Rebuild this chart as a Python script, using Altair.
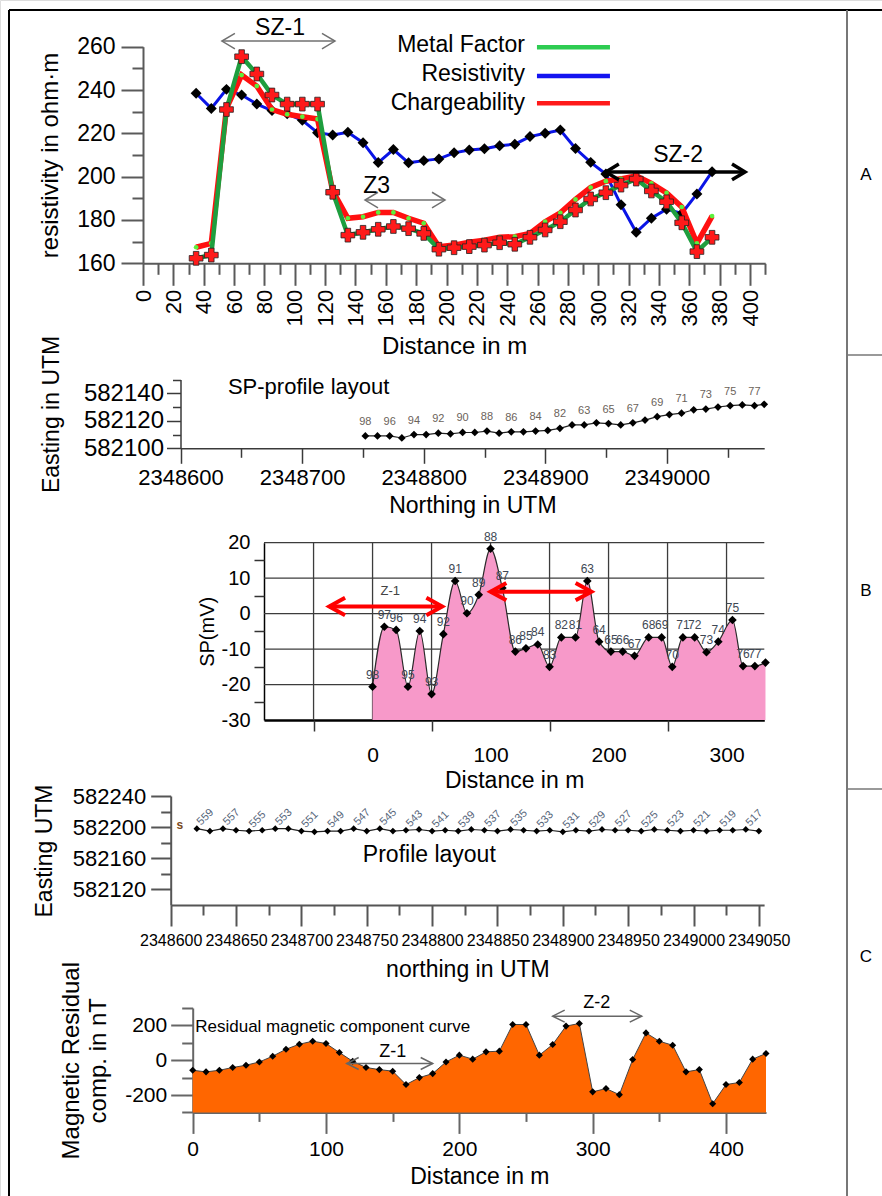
import altair as alt
import pandas as pd

FONT = "Liberation Sans"
W, H = 882, 1196

# ---------------- Panel A : resistivity / metal factor / chargeability ----------------
dist_a = [35, 45, 55, 65, 75, 85, 95, 105, 115, 125, 135, 145, 155, 165, 175,
          185, 195, 205, 215, 225, 235, 245, 255, 265, 275, 285, 295, 305, 315,
          325, 335, 345, 355, 365, 375]
resistivity = [238.5, 231.5, 240.3, 237.7, 233.5, 230.5, 229, 226, 220.3, 219.2, 220.5,
               215.7, 206.5, 212.5, 206.4, 207.4, 208.2, 211, 212.3, 212.9, 214.3,
               215, 218.5, 220, 221.5, 213, 206.6, 201.2, 187, 174.3, 180.8, 185, 183,
               192, 202.3]
metal_factor = [162.3, 163.8, 231, 255.4, 247.4, 237.7, 233.5, 233.5, 233.5, 192.8, 173,
                174.3, 175.7, 177, 176, 173.8, 166.5, 167.2, 167.7, 168.4, 169.5, 168.8,
                172, 175.4, 179.2, 184.6, 189.7, 192.6, 196.1, 198.9, 193.4, 188.4, 178.7,
                165.4, 172]
chargeability = [167.4, 169.2, 231.5, 246.9, 241.8, 231, 228.8, 227.7, 226.6, 193.5, 180.8,
                 181.5, 183.5, 183.5, 180.8, 178.5, 167.7, 168.4, 169.7, 170.7, 172, 172.3,
                 173.8, 179.2, 183.3, 189.5, 195, 197.9, 199, 200.4, 196.9, 192.5, 186,
                 169.2, 181.8]
a_x_major = [0, 20, 40, 60, 80, 100, 120, 140, 160, 180, 200, 220, 240, 260, 280, 300,
             320, 340, 360, 380, 400]
a_x_minor = [10, 30, 50, 70, 90, 110, 130, 150, 170, 190, 210, 230, 250, 270, 290, 310,
             330, 350, 370, 390, 410]
a_y_major = [160, 180, 200, 220, 240, 260]
a_y_minor = [170, 190, 210, 230, 250]
legend_names = ["Metal Factor", "Resistivity", "Chargeability"]
legend_colors = ["#2ecc52", "#1414f0", "#ff1a1a"]

# ---------------- Panel B1 : SP profile layout ----------------
spl_northing = [2348752, 2348762, 2348772, 2348782, 2348792, 2348802, 2348812, 2348822,
                2348832, 2348842, 2348852, 2348862, 2348872, 2348882, 2348892, 2348902,
                2348912, 2348922, 2348932, 2348942, 2348952, 2348962, 2348972, 2348982,
                2348992, 2349002, 2349012, 2349022, 2349032, 2349042, 2349052, 2349062,
                2349072, 2349080]
spl_easting = [582109, 582109, 582109, 582107.5, 582110, 582110, 582111, 582110.5,
               582111.5, 582111.5, 582112.5, 582111, 582112, 582112, 582112.5, 582113,
               582114.5, 582117, 582117, 582118.5, 582118, 582117, 582118.5, 582120.5,
               582123, 582124.5, 582125.5, 582128, 582128.5, 582130, 582131, 582131.5,
               582131, 582132]
spl_labels = ["98", "", "96", "", "94", "", "92", "", "90", "", "88", "", "86", "", "84", "",
              "82", "", "63", "", "65", "", "67", "", "69", "", "71", "", "73", "", "75", "",
              "77", ""]
l_x_major = [2348600, 2348700, 2348800, 2348900, 2349000]
l_x_minor = [2348650, 2348750, 2348850, 2348950, 2349050]
l_y_major = [582100, 582120, 582140]
l_y_minor = [582110, 582130, 582150]

# ---------------- Panel B2 : SP curve ----------------
sp_dist = [0, 10, 20, 30, 40, 50, 60, 70, 80, 90, 100, 110, 121, 130, 140, 150, 160, 172,
           182, 192, 202, 212, 222, 234, 245, 254, 263, 273, 283, 293, 305, 314, 324, 333]
sp_mv = [-20.6, -3.7, -4.6, -20.6, -4.9, -22.7, -5.8, 9.2, 0.1, 5.3, 18.3, 7.2, -10.7, -9.8,
         -8.7, -15, -6.7, -6.7, 9.2, -7.9, -10.7, -10.7, -11.9, -6.7, -6.7, -15, -6.7, -6.7,
         -10.9, -7.9, -1.8, -14.8, -14.8, -13.8]
sp_labels = ["98", "97", "96", "95", "94", "93", "92", "91", "90", "89", "88", "87", "86",
             "85", "84", "83", "82", "81", "63", "64", "65", "66", "67", "68", "69", "70",
             "71", "72", "73", "74", "75", "76", "77", ""]
sp_grid_y = [20, 10, 0, -10, -20]
sp_grid_x = [-50, 0, 50, 100, 150, 200, 250, 300]
s_x_major = [0, 100, 200, 300]
s_x_minor = [-50, 50, 150, 250]
s_y_major = [-30, -20, -10, 0, 10, 20]
s_y_minor = [-25, -15, -5, 5, 15]

# ---------------- Panel C1 : magnetic profile layout ----------------
prof_northing = [2348620, 2348630, 2348640, 2348650, 2348660, 2348670, 2348680, 2348690,
                 2348700, 2348710, 2348720, 2348730, 2348740, 2348750, 2348760, 2348770,
                 2348780, 2348790, 2348800, 2348810, 2348820, 2348830, 2348840, 2348850,
                 2348860, 2348870, 2348880, 2348890, 2348900, 2348910, 2348920, 2348930,
                 2348940, 2348950, 2348960, 2348970, 2348980, 2348990, 2349000, 2349010,
                 2349020, 2349030, 2349040, 2349050]
prof_easting = [582198, 582195, 582198, 582196, 582195, 582196, 582198, 582198, 582195, 582194,
                582195, 582195, 582198, 582195, 582198, 582195, 582196, 582197, 582195, 582196,
                582195, 582197, 582196, 582195, 582197, 582196, 582195, 582196, 582194, 582196,
                582195, 582197, 582196, 582196, 582195, 582197, 582196, 582195, 582196, 582195,
                582196, 582196, 582197, 582195]
prof_labels = ["559", "", "557", "", "555", "", "553", "", "551", "", "549", "", "547", "",
               "545", "", "543", "", "541", "", "539", "", "537", "", "535", "", "533", "",
               "531", "", "529", "", "527", "", "525", "", "523", "", "521", "", "519", "",
               "517", ""]
p_x_major = [2348600, 2348650, 2348700, 2348750, 2348800, 2348850, 2348900, 2348950,
             2349000, 2349050]
p_x_minor = [2348625, 2348675, 2348725, 2348775, 2348825, 2348875, 2348925, 2348975, 2349025]
p_y_major = [582120, 582160, 582200, 582240]
p_y_minor = [582140, 582180, 582220]

# ---------------- Panel C2 : residual magnetic ----------------
mag_dist = [0, 10, 20, 30, 40, 50, 60, 70, 80, 90, 100, 110, 120, 130, 140, 150, 160, 170,
            180, 190, 200, 210, 220, 230, 240, 250, 260, 270, 280, 290, 300, 310, 320, 330,
            340, 350, 360, 370, 380, 390, 400, 410, 420, 430]
mag_nt = [-58, -67, -58, -42, -29, -10, 23, 63, 92, 109, 96, 44, -6, -42, -54, -63, -140,
          -100, -77, -10, 29, 6, 48, 52, 205, 205, 29, 90, 196, 211, -182, -163, -198, 4,
          157, 109, 86, -67, -54, -250, -140, -128, 6, 39]
m_x_major = [0, 100, 200, 300, 400]
m_x_minor = [50, 150, 250, 350]
m_y_major = [-200, 0, 200]
m_y_minor = [-300, -100, 100, 300]


# ---------------- helpers ----------------
def qx(field, scale, axis=None):
    return alt.X(field, type="quantitative", scale=scale, axis=axis)


def qy(field, scale, axis=None):
    return alt.Y(field, type="quantitative", scale=scale, axis=axis)


def make_axis(orient, values, pos, tick, color, labels=True, domain=True, lab_size=20,
              lab_pad=4, title=None, title_size=22, title_pad=8, label_angle=None,
              dwidth=2, line_height=None):
    off = -pos if orient == "left" else pos - H
    kw = dict(orient=orient, values=values, offset=off, tickSize=tick, tickColor=color,
              tickWidth=dwidth, ticks=tick > 0, domain=domain, domainColor=color,
              domainWidth=dwidth, grid=False, labels=labels, title=title)
    if labels:
        kw.update(labelFont=FONT, labelFontSize=lab_size, labelColor="black",
                  labelPadding=lab_pad, labelExpr="datum.value + ''", labelOverlap=False,
                  labelFlush=False)
        if label_angle is not None:
            kw["labelAngle"] = label_angle
    if title is not None:
        kw.update(titleFont=FONT, titleFontSize=title_size, titleFontWeight="normal",
                  titleColor="black", titlePadding=title_pad)
        if line_height is not None:
            kw["titleLineHeight"] = line_height
    return alt.Axis(**kw)


def arrows(x1, x2, y, xs, ys, color, width, size, ratio):
    df = pd.DataFrame({"x1": x1, "x2": x2, "y": y})
    b = alt.Chart(df)
    lp = f"M 1 {-ratio} L 0 0 L 1 {ratio}"
    rp = f"M -1 {-ratio} L 0 0 L -1 {ratio}"
    return [
        b.mark_rule(color=color, strokeWidth=width).encode(
            x=qx("x1", xs), x2=alt.X2("x2"), y=qy("y", ys)),
        b.mark_point(shape=lp, filled=False, color=color, strokeWidth=width, size=size,
                     opacity=1).encode(x=qx("x1", xs), y=qy("y", ys)),
        b.mark_point(shape=rp, filled=False, color=color, strokeWidth=width, size=size,
                     opacity=1).encode(x=qx("x2", xs), y=qy("y", ys)),
    ]


def texts(tx, ty, tt, xs, ys, size, align="center", color="black", **kw):
    df = pd.DataFrame({"x": tx, "y": ty, "t": tt})
    return alt.Chart(df).mark_text(font=FONT, fontSize=size, align=align, baseline="middle",
                                   color=color, **kw).encode(
        x=qx("x", xs), y=qy("y", ys), text=alt.Text("t:N"))


def panel(layers):
    return alt.layer(*layers).resolve_axis(x="independent", y="independent")


# ---------------- Panel A ----------------
XA = alt.Scale(domain=[0, 410], range=[143, 765.2], nice=False, zero=False)
YA = alt.Scale(domain=[160, 260], range=[263.3, 46.7], nice=False, zero=False)
A_C = "#5a5a5a"
dfA = pd.DataFrame({"d": dist_a, "res": resistivity, "mf": metal_factor, "ch": chargeability})
bA = alt.Chart(dfA)
axA_x = make_axis("bottom", a_x_major, 263.3, 22, A_C, lab_size=22, lab_pad=4, label_angle=270,
                  title="Distance in m", title_size=24, title_pad=8)
axA_y = make_axis("left", a_y_major, 143, 22, A_C, lab_size=23, lab_pad=6,
                  title="resistivity in ohm·m", title_size=24, title_pad=14)
axA_xm = make_axis("bottom", a_x_minor, 263.3, 11, A_C, labels=False, domain=False)
axA_ym = make_axis("left", a_y_minor, 143, 11, A_C, labels=False, domain=False)

legA = pd.DataFrame({"name": legend_names, "color": legend_colors,
                     "tx": [251.7, 251.7, 251.7], "ty": [260.8, 247.4, 234.0],
                     "lx1": [259.6, 259.6, 259.6], "lx2": [307.7, 307.7, 307.7],
                     "ly": [259.7, 246.5, 233.9]})
A_layers = [
    bA.mark_point(opacity=0).encode(x=qx("d", XA, axA_x), y=qy("res", YA, axA_y)),
    bA.mark_point(opacity=0).encode(x=qx("d", XA, axA_xm), y=qy("res", YA, axA_ym)),
    bA.mark_line(color="#0a14e6", strokeWidth=3).encode(x=qx("d", XA), y=qy("res", YA)),
    bA.mark_point(shape="diamond", filled=True, color="black", size=120, opacity=1).encode(
        x=qx("d", XA), y=qy("res", YA)),
    bA.mark_line(color="#ff1010", strokeWidth=5.5).encode(x=qx("d", XA), y=qy("ch", YA)),
    bA.mark_point(shape="circle", filled=True, color="#5cf03c", size=22, opacity=1).encode(
        x=qx("d", XA), y=qy("ch", YA)),
    bA.mark_line(color="#1e9e3e", strokeWidth=4.5).encode(x=qx("d", XA), y=qy("mf", YA)),
    bA.mark_point(shape="cross", filled=True, fill="#ff1a1a", stroke="#222222", strokeWidth=0.8,
                  size=190, opacity=1).encode(x=qx("d", XA), y=qy("mf", YA)),
]
A_layers += arrows([52, 146.3], [126.5, 199], [262.6, 189.2], XA, YA, "#707070", 1.5, 676, 0.6)
A_layers += arrows([305], [396.7], [202.2], XA, YA, "black", 3.5, 676, 0.6)
A_layers.append(texts([90.3, 154, 352.6], [268.6, 195.7, 210], ["SZ-1", "Z3", "SZ-2"], XA, YA, 23))
A_layers.append(alt.Chart(legA).mark_text(font=FONT, fontSize=23, align="right",
                                          baseline="middle", color="black").encode(
    x=qx("tx", XA), y=qy("ty", YA), text="name:N"))
A_layers.append(alt.Chart(legA).mark_rule(strokeWidth=4.5).encode(
    x=qx("lx1", XA), x2=alt.X2("lx2"), y=qy("ly", YA), color=alt.Color("color:N", scale=None)))
panelA = panel(A_layers)

# ---------------- Panel B1 ----------------
XL = alt.Scale(domain=[2348600, 2349080], range=[180.5, 764.2], nice=False, zero=False)
YL = alt.Scale(domain=[582100, 582150], range=[448.3, 379.5], nice=False, zero=False)
L_C = "#3a3a3a"
dfL = pd.DataFrame({"n": spl_northing, "e": spl_easting, "lab": spl_labels})
bL = alt.Chart(dfL)
axL_x = make_axis("bottom", l_x_major, 448.3, 15, L_C, lab_size=22, lab_pad=4,
                  title="Northing in UTM", title_size=23, title_pad=6, dwidth=1.5)
axL_y = make_axis("left", l_y_major, 180.5, 14, L_C, lab_size=24, lab_pad=3,
                  title="Easting in UTM", title_size=23, title_pad=20, dwidth=1.5)
axL_xm = make_axis("bottom", l_x_minor, 448.3, 9, L_C, labels=False, domain=False, dwidth=1.5)
axL_ym = make_axis("left", l_y_minor, 180.5, 8, L_C, labels=False, domain=False, dwidth=1.5)
L_layers = [
    bL.mark_point(opacity=0).encode(x=qx("n", XL, axL_x), y=qy("e", YL, axL_y)),
    bL.mark_point(opacity=0).encode(x=qx("n", XL, axL_xm), y=qy("e", YL, axL_ym)),
    bL.mark_line(color="#222222", strokeWidth=1.2).encode(x=qx("n", XL), y=qy("e", YL)),
    bL.mark_point(shape="diamond", filled=True, color="black", size=60, opacity=1).encode(
        x=qx("n", XL), y=qy("e", YL)),
    bL.mark_text(font=FONT, fontSize=11, dy=-14, color="#6b625a").encode(
        x=qx("n", XL), y=qy("e", YL), text="lab:N"),
    texts([2348639], [582144.8], ["SP-profile layout"], XL, YL, 22, align="left"),
]
panelL = panel(L_layers)

# ---------------- Panel B2 ----------------
XS = alt.Scale(domain=[-92, 332], range=[264, 764.3], nice=False, zero=False)
YS = alt.Scale(domain=[-30, 20], range=[720, 542.7], nice=False, zero=False)
dfS = pd.DataFrame({"d": sp_dist, "v": sp_mv, "lab": sp_labels})
dfS["base"] = s_y_major[0]
bS = alt.Chart(dfS)
axS_x = make_axis("bottom", s_x_major, 720, 0, "black", lab_size=21, lab_pad=24,
                  title="Distance in m", title_size=23, title_pad=4, dwidth=2.5)
axS_y = make_axis("left", s_y_major, 264, 0, "black", lab_size=20, lab_pad=14,
                  title="SP(mV)", title_size=20, title_pad=4, dwidth=1.5)
axS_xm = make_axis("bottom", s_x_minor, 720, 11, "#333333", labels=False, domain=False, dwidth=1.5)
axS_ym = make_axis("left", s_y_minor, 264, 10, "#333333", labels=False, domain=False, dwidth=1.5)
gh = pd.DataFrame({"gy": sp_grid_y})
gh["x1"] = XS.domain[0]
gh["x2"] = XS.domain[1]
gv = pd.DataFrame({"gx": sp_grid_x})
gv["y1"] = YS.domain[0]
gv["y2"] = YS.domain[1]
S_layers = [
    bS.mark_point(opacity=0).encode(x=qx("d", XS, axS_x), y=qy("v", YS, axS_y)),
    bS.mark_point(opacity=0).encode(x=qx("d", XS, axS_xm), y=qy("v", YS, axS_ym)),
    alt.Chart(gh).mark_rule(color="#3c3c3c", strokeWidth=1.3).encode(
        x=qx("x1", XS), x2=alt.X2("x2"), y=qy("gy", YS)),
    alt.Chart(gv).mark_rule(color="#3c3c3c", strokeWidth=1.3).encode(
        x=qx("gx", XS), y=qy("y1", YS), y2=alt.Y2("y2")),
    bS.mark_area(color="#f799c9", interpolate="monotone", opacity=1).encode(
        x=qx("d", XS), y=qy("v", YS), y2=alt.Y2("base")),
    bS.mark_line(color="#2a2a2a", strokeWidth=1.2, interpolate="monotone").encode(
        x=qx("d", XS), y=qy("v", YS)),
    bS.mark_point(shape="diamond", filled=True, color="black", size=75, opacity=1).encode(
        x=qx("d", XS), y=qy("v", YS)),
    bS.mark_text(font=FONT, fontSize=12, dy=-12, color="#3e4854").encode(
        x=qx("d", XS), y=qy("v", YS), text="lab:N"),
]
S_layers += arrows([-36.7, 100], [59, 185.5], [2, 6.2], XS, YS, "#ff0000", 4, 1000, 0.55)
S_layers.append(texts([15], [6.5], ["Z-1"], XS, YS, 13, color="#444444"))
panelS = panel(S_layers)

# ---------------- Panel C1 ----------------
XP = alt.Scale(domain=[2348600, 2349054], range=[170.7, 764.1], nice=False, zero=False)
YP = alt.Scale(domain=[582100, 582240], range=[905, 796], nice=False, zero=False)
P_C = "#555555"
dfP = pd.DataFrame({"n": prof_northing, "e": prof_easting, "lab": prof_labels})
bP = alt.Chart(dfP)
axP_x = make_axis("bottom", p_x_major, 905, 21, P_C, lab_size=16, lab_pad=6,
                  title="northing in UTM", title_size=23, title_pad=10)
axP_y = make_axis("left", p_y_major, 170.7, 20, P_C, lab_size=22, lab_pad=5,
                  title="Easting UTM", title_size=23, title_pad=16)
axP_xm = make_axis("bottom", p_x_minor, 905, 10, P_C, labels=False, domain=False)
axP_ym = make_axis("left", p_y_minor, 170.7, 10, P_C, labels=False, domain=False)
P_layers = [
    bP.mark_point(opacity=0).encode(x=qx("n", XP, axP_x), y=qy("e", YP, axP_y)),
    bP.mark_point(opacity=0).encode(x=qx("n", XP, axP_xm), y=qy("e", YP, axP_ym)),
    bP.mark_line(color="#222222", strokeWidth=1.2).encode(x=qx("n", XP), y=qy("e", YP)),
    bP.mark_point(shape="diamond", filled=True, color="black", size=45, opacity=1).encode(
        x=qx("n", XP), y=qy("e", YP)),
    bP.mark_text(font=FONT, fontSize=11, angle=315, align="left", baseline="middle", dx=5,
                 dy=-2, color="#56657a").encode(x=qx("n", XP), y=qy("e", YP), text="lab:N"),
    texts([2348747], [582164], ["Profile layout"], XP, YP, 23, align="left"),
    texts([2348607], [582203], ["s"], XP, YP, 12, color="#7a4a20", fontWeight="bold"),
]
panelP = panel(P_layers)

# ---------------- Panel C2 ----------------
XM = alt.Scale(domain=[0, 430], range=[192.7, 766], nice=False, zero=False)
YM = alt.Scale(domain=[-300, 300], range=[1112.4, 1008], nice=False, zero=False)
M_C = "#666666"
dfM = pd.DataFrame({"d": mag_dist, "v": mag_nt})
dfM["base"] = m_y_minor[0]
bM = alt.Chart(dfM)
axM_x = make_axis("bottom", m_x_major, 1112.4, 21, M_C, lab_size=21, lab_pad=5,
                  title="Distance in m", title_size=23, title_pad=6)
axM_y = make_axis("left", m_y_major, 192.7, 22, M_C, lab_size=21, lab_pad=4,
                  title=["Magnetic Residual", "comp. in nT"], title_size=24, title_pad=14,
                  line_height=27)
axM_xm = make_axis("bottom", m_x_minor, 1112.4, 9, M_C, labels=False, domain=False)
axM_ym = make_axis("left", m_y_minor, 192.7, 11, M_C, labels=False, domain=False)
M_layers = [
    bM.mark_point(opacity=0).encode(x=qx("d", XM, axM_x), y=qy("v", YM, axM_y)),
    bM.mark_point(opacity=0).encode(x=qx("d", XM, axM_xm), y=qy("v", YM, axM_ym)),
    bM.mark_area(color="#ff6600", opacity=1).encode(x=qx("d", XM), y=qy("v", YM),
                                                   y2=alt.Y2("base")),
    bM.mark_line(color="#444444", strokeWidth=1).encode(x=qx("d", XM), y=qy("v", YM)),
    bM.mark_point(shape="diamond", filled=True, color="black", size=50, opacity=1).encode(
        x=qx("d", XM), y=qy("v", YM)),
]
M_layers += arrows([115.5, 270], [180, 336.8], [-19, 253], XM, YM, "#666666", 1.5, 576, 0.5)
M_layers.append(texts([1.9], [190], ["Residual magnetic component curve"], XM, YM, 17,
                      align="left"))
M_layers.append(texts([150, 303], [48, 328], ["Z-1", "Z-2"], XM, YM, 18))
panelM = panel(M_layers)

# ---------------- frame with A / B / C column ----------------
one = pd.DataFrame({"k": [0]})
fr = alt.Chart(one)
frame = [
    fr.mark_rule(color="black", strokeWidth=2).encode(x=alt.value(9), y=alt.value(10),
                                                      y2=alt.value(H)),
    fr.mark_rule(color="black", strokeWidth=2).encode(x=alt.value(9), x2=alt.value(W),
                                                      y=alt.value(10)),
    fr.mark_rule(color="#777777", strokeWidth=2).encode(x=alt.value(847), y=alt.value(10),
                                                        y2=alt.value(H)),
    fr.mark_rule(color="#777777", strokeWidth=1.5).encode(x=alt.value(847), x2=alt.value(W),
                                                          y=alt.value(355)),
    fr.mark_rule(color="#777777", strokeWidth=1.5).encode(x=alt.value(847), x2=alt.value(W),
                                                          y=alt.value(789)),
    fr.mark_text(font=FONT, fontSize=17, color="black").encode(
        x=alt.value(866), y=alt.value(175), text=alt.value("A")),
    fr.mark_text(font=FONT, fontSize=17, color="black").encode(
        x=alt.value(866), y=alt.value(591), text=alt.value("B")),
    fr.mark_text(font=FONT, fontSize=17, color="black").encode(
        x=alt.value(866), y=alt.value(957), text=alt.value("C")),
]

chart = alt.layer(*frame, panelA, panelL, panelS, panelP, panelM).resolve_scale(
    x="independent", y="independent"
).properties(
    width=W, height=H, padding=0, background="white",
    autosize=alt.AutoSizeParams(type="none"),
).configure_view(stroke=None).configure(font=FONT)

chart.save("out.html", embed_options={"renderer": "svg", "actions": False})
